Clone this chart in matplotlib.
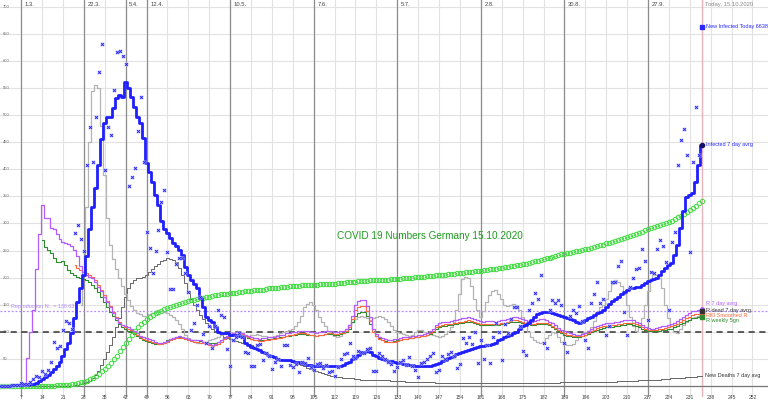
import matplotlib.pyplot as plt
import numpy as np

# day 0 = 23.2.2020; infections /10, cumulative /1000, R values *100
infected_7d = [
    0, 0, 0, 0, 1, 1, 1, 1, 2, 2,
    3, 4, 6, 9, 13, 16, 20, 25, 31, 37,
    45, 55, 68, 80, 98, 125, 155, 180, 205, 240,
    290, 330, 365, 408, 455, 485, 497, 496, 513, 532,
    536, 534, 561, 550, 533, 515, 497, 485, 457, 411,
    395, 376, 352, 334, 305, 290, 282, 273, 264, 258,
    251, 242, 220, 205, 196, 188, 181, 162, 146, 128,
    122, 119, 108, 100, 98, 98, 98, 94, 94, 94,
    92, 91, 80, 76, 72, 70, 69, 66, 63, 60,
    57, 55, 53, 50, 48, 48, 48, 48, 47, 45,
    44, 42, 41, 39, 38, 36, 36, 36, 36, 36,
    36, 36, 36, 36, 37, 38, 42, 45, 50, 54,
    57, 61, 63, 65, 62, 57, 55, 52, 50, 48,
    47, 46, 45, 43, 43, 41, 40, 39, 39, 37,
    36, 36, 36, 36, 37, 39, 41, 43, 46, 48,
    51, 53, 56, 59, 60, 62, 64, 66, 68, 70,
    72, 73, 74, 75, 76, 77, 80, 84, 87, 90,
    92, 95, 98, 100, 105, 110, 113, 117, 121, 127,
    133, 135, 137, 137, 136, 135, 133, 131, 129, 128,
    126, 123, 121, 119, 117, 119, 122, 125, 128, 131,
    135, 137, 141, 146, 151, 156, 160, 165, 170, 174,
    177, 180, 181, 182, 183, 186, 190, 193, 196, 198,
    200, 205, 212, 218, 223, 227, 242, 260, 291, 322,
    349, 352, 356, 377, 408, 445,
]

infected_new = [
    0, 0, 0, 0, 1, 2, 1, 5, 3, 4,
    8, 13, 18, 17, 28, 22, 30, 45, 81, 70,
    74, 103, 120, 116, 105, 282, 297, 271, 250, 408,
    478, 413, 497, 579, 631, 399, 477, 463, 546, 617,
    619, 609, 595, 369, 385, 402, 470, 534, 414, 284,
    255, 209, 250, 288, 339, 362, 247, 179, 179, 225,
    236, 237, 208, 174, 103, 116, 149, 165, 96, 80,
    110, 70, 110, 140, 131, 128, 68, 37, 85, 90,
    98, 91, 63, 60, 36, 36, 76, 78, 48, 60,
    55, 31, 45, 50, 37, 76, 76, 39, 35, 40,
    26, 45, 42, 51, 35, 30, 40, 42, 33, 38,
    26, 28, 18, 35, 50, 59, 60, 80, 55, 51,
    65, 63, 60, 68, 70, 28, 28, 60, 55, 50,
    45, 40, 28, 35, 45, 48, 38, 53, 36, 30,
    17, 43, 45, 50, 55, 60, 26, 30, 55, 50,
    59, 62, 55, 33, 40, 88, 80, 91, 78, 100,
    42, 85, 50, 75, 42, 90, 116, 100, 48, 114,
    98, 123, 145, 145, 110, 65, 57, 140, 153, 172,
    160, 205, 80, 71, 140, 159, 153, 159, 149, 80,
    63, 130, 140, 135, 148, 120, 84, 70, 153, 170,
    191, 153, 160, 95, 110, 191, 192, 221, 231, 137,
    94, 183, 200, 216, 217, 253, 230, 122, 210, 209,
    253, 269, 258, 229, 140, 265, 285, 408, 454, 474,
    426, 248, 414, 514, 426, 663,
]

infected_total = [
    0, 0, 0, 0, 0, 0, 0, 0, 0, 0,
    0, 0, 0, 0, 0, 0, 0.3, 0.5, 0.7, 1,
    1.3, 1.6, 2, 2.5, 3, 4, 5, 6.5, 8, 10,
    12.5, 15.5, 19, 22.5, 27, 31.5, 36.5, 42, 49, 56,
    64, 72, 79, 87, 95, 102, 108, 114, 119, 123,
    127, 131, 134, 137, 139, 142, 144, 146, 148, 150,
    152, 153, 155, 156, 158, 159, 160, 162, 163, 164,
    165, 166, 167, 168, 169, 170, 170.5, 171, 172, 172.5,
    173, 174, 174.5, 175, 176, 176.5, 177, 177.5, 178, 179,
    180, 180.5, 181, 181.5, 182, 183, 183.5, 184, 184.5, 185,
    185, 185.5, 186, 186, 186.5, 187, 187, 187.5, 188, 188,
    188.5, 189, 189, 189.5, 190, 190.5, 191, 191.5, 192, 192.5,
    193, 193.5, 194, 194.5, 195, 195.5, 195.5, 196, 196, 196.5,
    196.5, 197, 197, 197.5, 198, 198.5, 199, 199.5, 200, 200.5,
    201, 201.5, 202, 202.5, 203, 203.5, 204, 204.5, 205, 205.5,
    206, 206.5, 207, 208, 208.5, 209, 210, 210.5, 211, 212,
    212.5, 213, 214, 214.5, 215, 216, 216.5, 217.5, 218, 219,
    220, 221, 222, 223, 224, 225, 226, 227, 228.5, 230,
    231, 232.5, 234, 235.5, 237, 238.5, 240, 241.5, 243, 244,
    245, 246, 247.5, 249, 250, 251, 252, 253.5, 255, 256.5,
    258, 259.5, 261, 263, 264.5, 266, 268, 269.5, 271, 273,
    275, 277, 279, 281, 283, 285, 287, 289, 291, 293,
    295, 297, 299, 301, 303, 305, 308, 311, 314, 317,
    321, 325, 329, 333, 337, 342,
]

r7_start = 8
r7 = [
    0, 52, 100, 140, 215, 280, 334, 310, 310, 291,
    290, 280, 271, 266, 264, 262, 258, 251, 239, 221,
    210, 205, 202, 199, 192, 183, 175, 165, 155, 145,
    135, 125, 117, 113, 110, 108, 106, 102, 97, 93,
    90, 88, 86, 84, 82, 80, 80, 81, 83, 86,
    88, 90, 92, 91, 89, 87, 85, 85, 84, 84,
    82, 80, 78, 76, 78, 81, 85, 89, 93, 96,
    98, 99, 100, 98, 95, 92, 90, 89, 88, 87,
    88, 89, 90, 91, 91, 92, 94, 95, 97, 98,
    99, 100, 101, 102, 102, 101, 100, 99, 98, 99,
    100, 101, 101, 101, 100, 100, 101, 102, 106, 113,
    130, 150, 156, 158, 159, 148, 128, 105, 96, 91,
    88, 86, 85, 85, 86, 87, 88, 90, 91, 91,
    92, 93, 94, 95, 96, 97, 101, 106, 113, 116,
    119, 119, 119, 120, 121, 122, 124, 125, 126, 128,
    126, 123, 121, 120, 119, 120, 120, 120, 119, 120,
    122, 122, 124, 126, 128, 127, 125, 123, 122, 120,
    119, 120, 122, 123, 123, 122, 119, 116, 112, 107,
    104, 101, 99, 97, 96, 95, 94, 96, 98, 101,
    105, 108, 111, 113, 115, 116, 116, 117, 118, 119,
    120, 121, 122, 122, 121, 119, 116, 112, 109, 107,
    106, 106, 107, 108, 110, 111, 113, 114, 117, 120,
    124, 128, 131, 134, 138, 139, 140, 143,
]

rki_start = 25
rki_r = [
    223, 218, 214, 211, 208, 205, 201, 195, 187, 178,
    168, 157, 147, 137, 127, 118, 113, 109, 106, 103,
    99, 94, 90, 87, 85, 83, 81, 79, 78, 78,
    79, 81, 84, 86, 88, 89, 89, 87, 85, 83,
    82, 81, 80, 79, 77, 75, 74, 75, 78, 82,
    86, 90, 93, 95, 96, 97, 96, 93, 90, 87,
    85, 84, 83, 83, 84, 85, 86, 87, 88, 89,
    91, 92, 94, 95, 96, 97, 97, 97, 96, 95,
    94, 93, 94, 95, 96, 97, 97, 96, 96, 97,
    98, 102, 109, 124, 140, 146, 148, 147, 138, 120,
    100, 92, 87, 84, 82, 81, 81, 82, 83, 84,
    86, 87, 88, 89, 90, 91, 92, 93, 94, 97,
    102, 108, 111, 113, 114, 114, 115, 116, 117, 118,
    119, 120, 121, 120, 118, 116, 115, 114, 114, 115,
    115, 114, 115, 116, 117, 118, 120, 121, 121, 120,
    118, 117, 116, 115, 115, 116, 117, 117, 116, 114,
    111, 107, 103, 100, 97, 95, 94, 93, 92, 92,
    93, 95, 98, 101, 104, 107, 109, 110, 111, 111,
    112, 113, 114, 115, 116, 117, 117, 116, 114, 112,
    109, 106, 104, 103, 103, 104, 105, 106, 107, 109,
    110, 112, 115, 118, 122, 125, 128, 131, 132, 133,
    134,
]

r_weekly_start = 14
r_weekly = [
    269, 257, 251, 245, 236, 229, 228, 230, 223, 214,
    209, 205, 202, 200, 198, 196, 192, 187, 181, 173,
    164, 155, 146, 137, 129, 121, 114, 109, 105, 102,
    99, 96, 92, 88, 85, 83, 81, 80, 78, 78,
    79, 81, 84, 87, 89, 90, 90, 89, 87, 86,
    85, 84, 84, 83, 82, 81, 80, 79, 79, 81,
    84, 88, 91, 93, 94, 95, 95, 94, 92, 89,
    86, 85, 84, 84, 84, 85, 86, 87, 88, 89,
    90, 91, 92, 93, 94, 95, 96, 96, 96, 95,
    94, 94, 93, 94, 95, 96, 96, 96, 95, 95,
    96, 97, 100, 106, 118, 130, 135, 137, 137, 130,
    115, 99, 92, 88, 85, 83, 82, 82, 83, 84,
    85, 86, 87, 88, 89, 90, 91, 92, 93, 94,
    96, 100, 105, 108, 110, 111, 112, 113, 114, 115,
    116, 117, 118, 119, 118, 116, 114, 113, 112, 112,
    113, 113, 112, 113, 114, 115, 116, 118, 119, 119,
    118, 116, 115, 114, 113, 113, 114, 115, 115, 114,
    112, 109, 105, 101, 98, 95, 93, 92, 91, 91,
    91, 92, 94, 96, 99, 102, 104, 106, 107, 108,
    108, 109, 110, 111, 112, 113, 114, 114, 113, 111,
    109, 106, 104, 102, 101, 101, 101, 102, 103, 104,
    105, 106, 108, 111, 114, 117, 120, 122, 125, 126,
    127, 128,
]

r_dead_start = 27
r_dead = [
    150, 210, 330, 450, 545, 555, 550, 480, 390, 310,
    260, 235, 215, 200, 185, 170, 158, 148, 140, 135,
    132, 130, 130, 132, 135, 137, 138, 138, 136, 134,
    131, 128, 122, 115, 105, 95, 88, 85, 82, 80,
    80, 80, 82, 84, 86, 88, 91, 94, 96, 98,
    99, 98, 96, 94, 92, 92, 93, 95, 95, 96,
    95, 93, 92, 90, 90, 92, 95, 98, 100, 102,
    104, 106, 110, 118, 130, 145, 152, 155, 150, 140,
    128, 118, 110, 102, 96, 92, 90, 92, 98, 105,
    112, 118, 124, 128, 130, 128, 125, 122, 125, 128,
    130, 128, 124, 118, 110, 104, 100, 98, 96, 94,
    92, 95, 100, 104, 103, 100, 98, 96, 94, 92,
    90, 92, 96, 102, 108, 118, 140, 170, 198, 202,
    200, 185, 160, 140, 128, 138, 155, 168, 175, 178,
    170, 160, 150, 148, 150, 152, 150, 140, 128, 115,
    100, 90, 85, 82, 80, 82, 88, 95, 100, 98,
    90, 82, 78, 76, 75, 78, 85, 92, 98, 100,
    102, 108, 120, 135, 145, 150, 160, 175, 188, 195,
    192, 185, 170, 150, 128, 110, 102, 110, 125, 150,
    175, 195, 205, 205, 200, 180, 150, 125, 110, 100,
    98, 105, 112, 118, 122, 126, 128, 130, 138,
]

deaths_7d = [
    0, 0, 0, 0, 0, 0, 0, 0, 0, 0,
    0, 0, 0, 0, 0, 0, 0, 0, 0, 0,
    0, 0, 0, 0, 0, 1, 2, 3, 5, 7,
    10, 14, 20, 28, 38, 50, 62, 76, 91, 108,
    125, 145, 165, 180, 190, 196, 199, 200, 202, 205,
    210, 215, 222, 226, 230, 233, 236, 234, 232, 228,
    218, 205, 190, 175, 160, 150, 140, 131, 124, 117,
    111, 106, 101, 97, 94, 91, 89, 87, 85, 83,
    81, 80, 79, 77, 75, 72, 69, 66, 63, 60,
    58, 56, 54, 52, 50, 48, 47, 46, 44, 42,
    40, 38, 36, 34, 32, 30, 28, 26, 24, 22,
    20, 19, 18, 17, 16, 15, 15, 14, 14, 13,
    13, 12, 12, 12, 12, 12, 12, 12, 12, 11,
    11, 10, 10, 9, 9, 9, 8, 8, 8, 8,
    7, 7, 7, 7, 7, 7, 6, 6, 6, 6,
    6, 6, 6, 6, 6, 6, 6, 6, 6, 6,
    6, 6, 6, 6, 6, 6, 6, 6, 6, 6,
    6, 6, 6, 6, 6, 6, 6, 6, 6, 6,
    6, 6, 6, 6, 6, 6, 6, 6, 7, 7,
    7, 7, 7, 7, 7, 7, 7, 7, 7, 7,
    7, 8, 8, 8, 8, 8, 8, 9, 9, 9,
    10, 10, 10, 10, 11, 11, 11, 11, 12, 12,
    12, 12, 13, 13, 13, 14, 14, 14, 15, 15,
    16, 16, 17, 17, 18, 18,
]

date_days = [7, 28, 42, 49, 77, 105, 133, 161, 189, 217]
date_labels = ['1.3.', '22.3.', '5.4.', '12.4.', '10.5.', '7.6.', '5.7.', '2.8.', '30.8.', '27.9.']
today = 235
r_mean = 138.637
title = 'COVID 19 Numbers Germany 15.10.2020'

plt.rcParams['font.family'] = ['Liberation Sans', 'DejaVu Sans']

fig = plt.figure(figsize=(7.68, 4.04), dpi=100)
ax = fig.add_axes([0, 0, 1, 1])
ax.set_xlim(-0.1, 257.2)
ax.set_ylim(-33.2, 712.2)
ax.axis('off')

# grid
for v in range(0, 701, 50):
    ax.axhline(v, color='#e2e2e2', lw=0.8, zorder=0)
    ax.text(0.8, v, str(v), fontsize=3.0, color='#666666', va='center', ha='left', zorder=1)
for d in range(7, 257, 7):
    ax.plot([d, d], [-18, 712], color='#e2e2e2', lw=0.8, zorder=0)
    ax.text(d, -22, str(d), fontsize=3.6, color='#444444', ha='center', va='center')
for d, lab in zip(date_days, date_labels):
    ax.plot([d, d], [-18, 712], color='#8c8c8c', lw=0.9, zorder=0.5)
    ax.text(d + 1.2, 704, lab, fontsize=4.2, color='#444444', ha='left', va='center')
ax.plot([today, today], [-18, 712], color='#e8b4bc', lw=1.0, zorder=0.5)
ax.text(today + 1.0, 704, 'Today, 15.10.2020', fontsize=4.2, color='#888888', ha='left', va='center')
ax.axhline(0, color='#777777', lw=0.9, zorder=0.6)

ax.axhline(100, color='#333333', lw=1.1, ls=(0, (4, 3)), zorder=2)
ax.axhline(r_mean, color='#b48cff', lw=0.9, ls=(0, (1.5, 1.5)), zorder=2)
ax.text(3.6, r_mean + 4, 'Reproduction N.. = %.3f' % r_mean, fontsize=3.9, color='#b48cff',
        ha='left', va='bottom')

# deaths and R curves
days = np.arange(len(deaths_7d))
ax.plot(days, deaths_7d, drawstyle='steps-mid', color='#666666', lw=0.7, zorder=3)

d = np.arange(r_dead_start, r_dead_start + len(r_dead))
ax.plot(d, r_dead, drawstyle='steps-mid', color='#b4b4b4', lw=0.9, zorder=3)
d = np.arange(r_weekly_start, r_weekly_start + len(r_weekly))
ax.plot(d, r_weekly, drawstyle='steps-mid', color='#2e8b2e', lw=0.8, zorder=4)
d = np.arange(rki_start, rki_start + len(rki_r))
ax.plot(d, rki_r, drawstyle='steps-mid', color='#ff6a3d', lw=0.8, zorder=4)
d = np.arange(r7_start, r7_start + len(r7))
ax.plot(d, r7, drawstyle='steps-mid', color='#b45cff', lw=0.9, zorder=4)

# cumulative infections
days = np.arange(len(infected_total))
ax.plot(days, infected_total, 'o', ms=3.2, mfc='none', mec='#3ddc3d', mew=0.7, zorder=5)

# infections
days = np.arange(len(infected_7d))
ax.plot(days, infected_7d, drawstyle='steps-mid', color='#1f1fff', lw=2.0, zorder=6)
days = np.arange(len(infected_new))
ax.plot(days, infected_new, 's', ms=2.6, mfc='#c8c8ff', mec='none', alpha=0.8, zorder=6)
ax.plot(days, infected_new, 'x', ms=2.0, color='#2a2aff', mew=0.7, zorder=7)

# end markers and labels
ax.plot(today, infected_7d[-1], 'o', ms=3, color='#111166', zorder=8)
ax.plot(today, infected_new[-1], 's', ms=2.5, color='#2a2aff', zorder=8)
ax.text(today + 1.5, infected_new[-1], 'New Infected Today %d' % (infected_new[-1] * 10 + 8),
        fontsize=4.0, color='#2a2aff', va='center')
ax.text(today + 1.5, infected_7d[-1], 'Infected 7 day avrg', fontsize=4.0, color='#2a2aff', va='center')
ax.plot(today, r7[-1], 'o', ms=2.5, color='#b45cff', zorder=8)
ax.plot(today, rki_r[-1], 's', ms=2.5, color='#ff6a3d', zorder=8)
ax.plot(today, r_weekly[-1], 's', ms=2.5, color='#2e8b2e', zorder=8)
ax.plot(today, r_dead[-1], 's', ms=2.5, color='#333333', zorder=8)
ax.text(today + 1.5, 153, 'R 7 day avrg', fontsize=4.0, color='#b45cff', va='center')
ax.text(today + 1.5, 140, 'R dead 7 day avrg', fontsize=4.0, color='#333333', va='center')
ax.text(today + 1.5, 130, 'RKI Smoothed R', fontsize=4.0, color='#ff6a3d', va='center')
ax.text(today + 1.5, 120, 'R weekly 5gn', fontsize=4.0, color='#2e8b2e', va='center')
ax.text(today + 1.0, deaths_7d[-1] + 2, 'New Deaths 7 day avg', fontsize=4.0, color='#333333', va='center')

ax.text(144, 276, title, fontsize=7.2, color='#1e9a1e', ha='center', va='center', zorder=9)

fig.savefig('out.png', dpi=100)
